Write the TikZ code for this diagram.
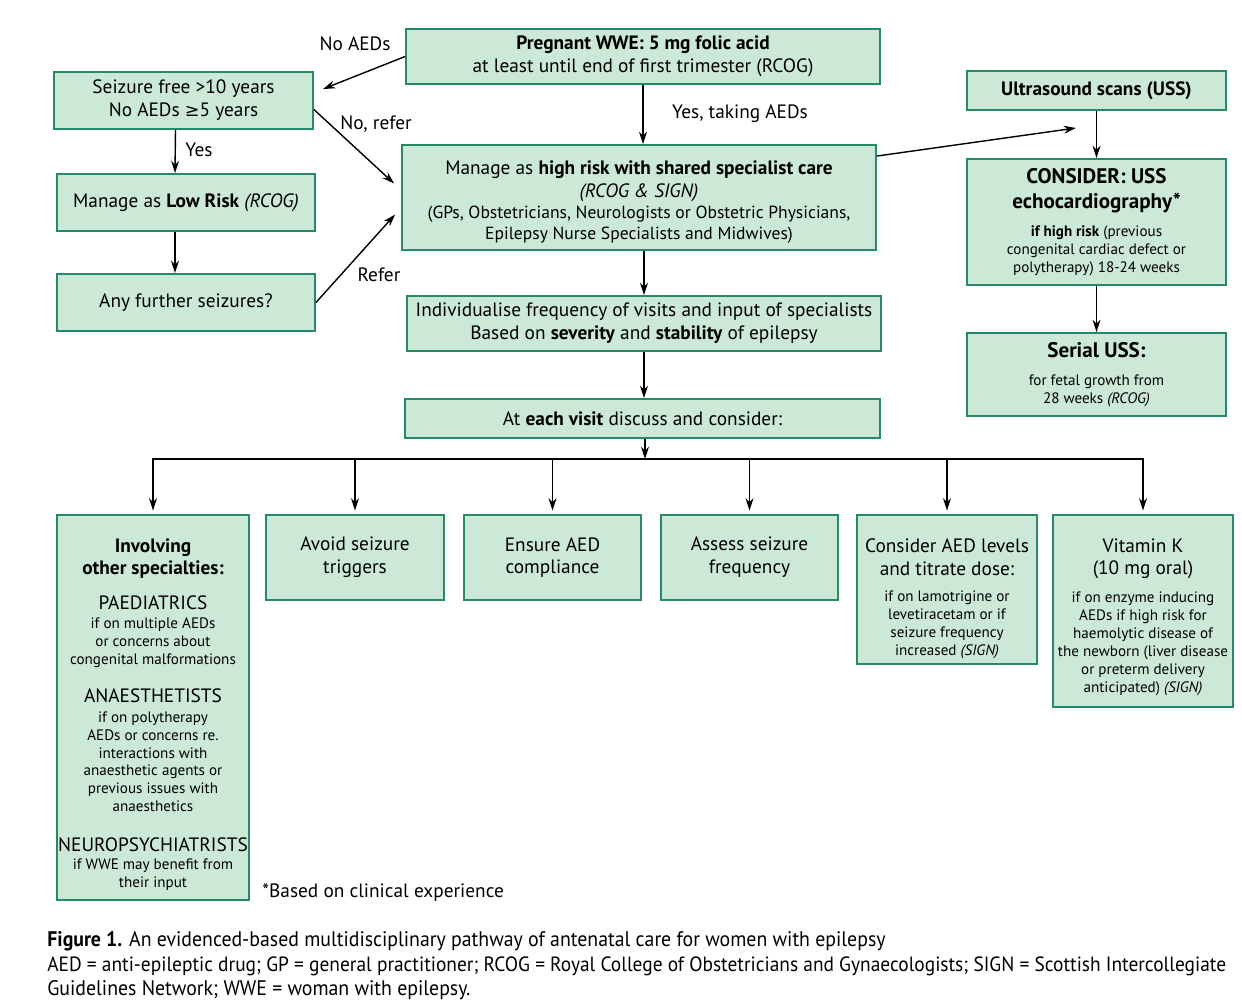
\documentclass[tikz,border=0pt]{standalone}
\usepackage{fontspec}
\setmainfont{PT Sans}
\newfontfamily\capfont[FakeStretch=0.94]{PT Sans}
\newfontfamily\symfont{DejaVu Sans}
\usetikzlibrary{arrows.meta}
\setlength{\parindent}{0pt}

\definecolor{boxfill}{HTML}{CCE9D8}
\definecolor{boxline}{HTML}{268A69}
\newcommand{\sm}{\fontsize{8.6}{10.2}\selectfont}
\newcommand{\hd}{\fontsize{12}{14.2}\selectfont}
\newcommand{\wideline}[1]{\makebox[\linewidth]{#1}}
\newcommand{\topgap}[1]{\par\vspace*{#1}}

\tikzset{
  box/.style={draw=boxline, fill=boxfill, line width=1.1pt, align=flush center,
    inner sep=2pt, font=\fontsize{11}{13}\selectfont},
  tbox/.style={box, text width=#1},
  arr/.style={-{Stealth[length=7pt,width=4.5pt]}, line width=0.8pt},
  lbl/.style={inner sep=0pt, font=\fontsize{11}{13}\selectfont},
  captxt/.style={anchor=west, inner sep=0pt, font=\capfont\fontsize{12}{14}\selectfont}
}

\begin{document}
\begin{tikzpicture}[x=0.02cm,y=-0.02cm]
\useasboundingbox (0,0) rectangle (1242,1002);

% Top of the pathway
\node[box, minimum width=9.48cm, minimum height=1.10cm] (preg) at (643,56.5)
  {\textbf{Pregnant WWE: 5 mg folic acid}\\at least until end of first trimester (RCOG)};
\node[box, minimum width=5.18cm, minimum height=1.14cm] (sfree) at (183.5,100.5)
  {Seizure free >10 years\\No AEDs {\symfont\fontsize{10}{12}\selectfont ≥}5 years};
\node[box, minimum width=5.16cm, minimum height=1.14cm] (lowrisk) at (186,202.5)
  {Manage as \textbf{Low Risk} \textit{(RCOG)}};
\node[box, minimum width=5.16cm, minimum height=1.14cm] (further) at (186,302.5)
  {Any further seizures?};
\node[tbox=9.3cm, minimum width=9.48cm, minimum height=2.10cm] (highrisk) at (639,197.5)
  {\topgap{0pt}Manage as \textbf{high risk with shared specialist care}\\\textit{(RCOG \& SIGN)}\par
   {\fontsize{10}{12}\selectfont (GPs, Obstetricians, Neurologists or Obstetric Physicians,\\
   Epilepsy Nurse Specialists and Midwives)\par}};
\node[box, minimum width=9.48cm, minimum height=1.10cm] (indiv) at (644,323.5)
  {Individualise frequency of visits and input of specialists\\
   Based on \textbf{severity} and \textbf{stability} of epilepsy};
\node[box, minimum width=9.50cm, minimum height=0.78cm] (visit) at (642.5,418.5)
  {At \textbf{each visit} discuss and consider:};

% Ultrasound column
\node[box, minimum width=5.18cm, minimum height=0.78cm] (uss) at (1096.5,90.5)
  {\textbf{Ultrasound scans (USS)}};
\node[tbox=5.0cm, minimum width=5.18cm, minimum height=2.52cm] (echo) at (1096.5,222)
  {{\hd\bfseries CONSIDER: USS\\echocardiography*\par}\vspace{5.5pt}
   {\sm\textbf{if high risk} (previous\\congenital cardiac defect or\\polytherapy) 18-24 weeks\par}};
\node[tbox=5.0cm, minimum width=5.18cm, minimum height=1.66cm] (serial) at (1096.5,374.5)
  {{\hd\bfseries Serial USS:\par}\vspace{6pt}
   {\sm for fetal growth from\\28 weeks \textit{(RCOG)}\par}};

% Things to consider at each visit
\node[tbox=3.7cm, minimum width=3.84cm, minimum height=7.70cm] (spec) at (153,707.5)
  {\topgap{2.5pt}{\bfseries Involving\\other specialties:\par}\vspace{6.5pt}
   PAEDIATRICS\par\vspace{1pt}
   {\sm if on multiple AEDs\\or concerns about\\congenital malformations\par}\vspace{8.5pt}
   ANAESTHETISTS\par\vspace{1pt}
   {\sm if on polytherapy\\AEDs or concerns re.\\interactions with\\anaesthetic agents or\\
    previous issues with\\anaesthetics\par}\vspace{9.5pt}
   \wideline{NEUROPSYCHIATRISTS}\par
   {\sm if WWE may benefit from\\their input\par}};
\node[box, minimum width=3.56cm, minimum height=1.70cm] (triggers) at (355,557.5)
  {Avoid seizure\\triggers};
\node[box, minimum width=3.54cm, minimum height=1.70cm] (comply) at (552.5,557.5)
  {Ensure AED\\compliance};
\node[box, minimum width=3.54cm, minimum height=1.70cm] (assess) at (749.5,557.5)
  {Assess seizure\\frequency};
\node[tbox=3.46cm, minimum width=3.56cm, minimum height=2.98cm] (levels) at (947,589.5)
  {\topgap{5.5pt}Consider AED levels\\and titrate dose:\par\vspace{5pt}
   {\sm if on lamotrigine or\\levetiracetam or if\\seizure frequency\\increased \textit{(SIGN)}\par}};
\node[tbox=3.46cm, minimum width=3.56cm, minimum height=3.84cm] (vitk) at (1143,611)
  {\topgap{1.5pt}Vitamin K\\(10 mg oral)\par\vspace{5.5pt}
   {\sm if on enzyme inducing\\AEDs if high risk for\\haemolytic disease of\\
    \wideline{the newborn (liver disease}\\or preterm delivery\\anticipated) \textit{(SIGN)}\par}};

% Connectors
\coordinate (usstip) at (1076,128);
\coordinate (bar) at (645,459);
\draw[arr] (preg.west) -- ([shift={(9,18)}]sfree.north east);
\draw[arr] (preg.south) -- (preg.south |- highrisk.north);
\draw[arr] ([shift={(0,9)}]sfree.east) -- ([shift={(-7,-14)}]highrisk.west);
\draw[arr] (further.east) -- ([shift={(-6,17)}]highrisk.west);
\draw[arr] ([xshift=-0.16cm]sfree.south) -- ([xshift=-0.22cm]lowrisk.north);
\draw[arr] ([xshift=-0.22cm]lowrisk.south) -- ([xshift=-0.22cm]further.north);
\draw[arr] (indiv.north |- highrisk.south) -- (indiv.north);
\draw[arr] (indiv.south) -- (indiv.south |- visit.north);
\draw[arr] ([shift={(0,12)}]highrisk.north east) -- (usstip);
\draw[arr] (uss) -- (echo);
\draw[arr] (echo) -- (serial);
\draw[arr] (visit.south -| bar) -- (bar);
\foreach \n in {spec,triggers,comply,assess,levels,vitk}
  \draw[arr, shorten >=2pt] (bar) -| (\n.north);

% Connector labels
\node[lbl] (lnoaeds) at (355,44) {No AEDs};
\node[lbl] (lnorefer) at (376,124) {No, refer};
\node[lbl] (lyes) at (199,150) {Yes};
\node[lbl] (lyesaeds) at (740,114) {Yes, taking AEDs};
\node[lbl] (lrefer) at (379,275) {Refer};

% Footnote and caption
\node[lbl, anchor=west] (fnote) at (262,893) {*Based on clinical experience};
\node[captxt] (cap1) at (47,941) {\textbf{Figure 1.} An evidenced-based multidisciplinary pathway of antenatal care for women with epilepsy};
\node[captxt, font=\capfont\fontsize{11.75}{14}\selectfont] (cap2) at (47,966) {AED = anti-epileptic drug; GP = general practitioner; RCOG = Royal College of Obstetricians and Gynaecologists; SIGN = Scottish Intercollegiate};
\node[captxt] (cap3) at (47,990) {Guidelines Network; WWE = woman with epilepsy.};
\end{tikzpicture}
\end{document}
